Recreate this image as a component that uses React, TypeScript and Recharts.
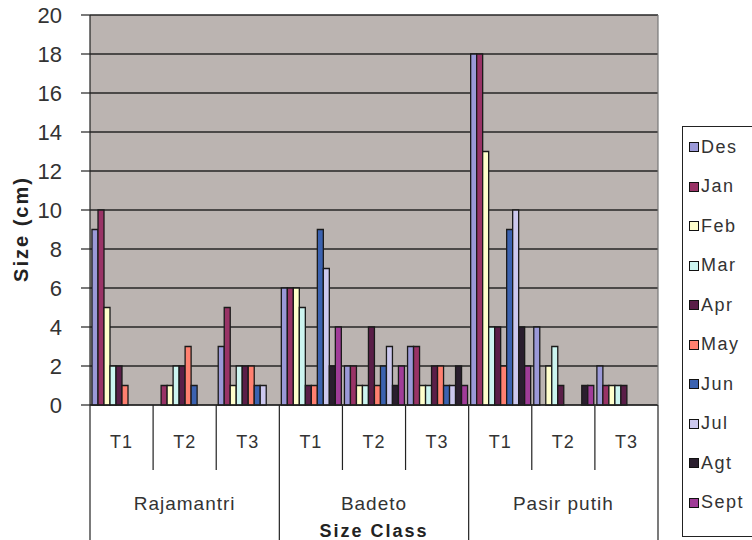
import React from "react";
import { BarChart, Bar, XAxis, YAxis, CartesianGrid, Label } from "recharts";

const FONT = "'Liberation Sans', Arial, sans-serif";

const siteNames = ["Rajamantri", "Badeto", "Pasir putih"];
const sizeClasses = ["T1", "T2", "T3"];
const yTicks = [0, 2, 4, 6, 8, 10, 12, 14, 16, 18, 20];

// one value per category: Rajamantri T1-T3, Badeto T1-T3, Pasir putih T1-T3
const des = [9, 0, 3, 6, 2, 3, 18, 4, 2];
const jan = [10, 1, 5, 6, 2, 3, 18, 0, 1];
const feb = [5, 1, 1, 6, 1, 1, 13, 2, 1];
const mar = [2, 2, 2, 5, 1, 1, 4, 3, 1];
const apr = [2, 2, 2, 1, 4, 2, 4, 1, 1];
const may = [1, 3, 2, 1, 1, 2, 2, 0, 0];
const jun = [0, 1, 1, 9, 2, 1, 9, 0, 0];
const jul = [0, 0, 1, 7, 3, 1, 10, 0, 0];
const agt = [0, 0, 0, 2, 1, 2, 4, 1, 0];
const sept = [0, 0, 0, 4, 2, 1, 2, 1, 0];

const series = [
  { name: "Des", values: des, color: "#9b99d8" },
  { name: "Jan", values: jan, color: "#993366" },
  { name: "Feb", values: feb, color: "#ffffcc" },
  { name: "Mar", values: mar, color: "#ccf5f0" },
  { name: "Apr", values: apr, color: "#5a1e48" },
  { name: "May", values: may, color: "#ff8070" },
  { name: "Jun", values: jun, color: "#3b62b0" },
  { name: "Jul", values: jul, color: "#ccc8ee" },
  { name: "Agt", values: agt, color: "#2a1e2e" },
  { name: "Sept", values: sept, color: "#a03c98" },
];

const rows = siteNames.flatMap((site, s) =>
  sizeClasses.map((cls, c) => {
    const i = s * sizeClasses.length + c;
    const row: any = { cls, site };
    series.forEach((sr) => (row[sr.name] = sr.values[i]));
    return row;
  })
);

const W = 752;
const H = 540;
const PLOT_LEFT = 90;
const PLOT_RIGHT = 658;
const PLOT_TOP = 15;
const PLOT_BOTTOM = 405;
const BAND = (PLOT_RIGHT - PLOT_LEFT) / rows.length;

function ClassTick(props: any) {
  const { x, payload, index } = props;
  const left = x - BAND / 2;
  const right = x + BAND / 2;
  const groupStart = index % sizeClasses.length === 0;
  const last = index === rows.length - 1;
  return (
    <g>
      <text
        x={x}
        y={442}
        textAnchor="middle"
        dominantBaseline="central"
        fontFamily={FONT}
        fontSize={18}
        letterSpacing={1}
        fill="#333"
      >
        {payload.value}
      </text>
      <line
        x1={left}
        x2={left}
        y1={PLOT_BOTTOM}
        y2={groupStart ? H : 470}
        stroke="#222"
        strokeWidth={1.2}
      />
      {index % sizeClasses.length === 1 && (
        <text
          x={x}
          y={503}
          textAnchor="middle"
          dominantBaseline="central"
          fontFamily={FONT}
          fontSize={19}
          letterSpacing={1}
          fill="#333"
        >
          {rows[index].site}
        </text>
      )}
      {last && (
        <>
          <line x1={right} x2={right} y1={PLOT_TOP} y2={PLOT_BOTTOM} stroke="#777" strokeWidth={1.2} />
          <line x1={right} x2={right} y1={PLOT_BOTTOM} y2={H} stroke="#222" strokeWidth={1.2} />
        </>
      )}
    </g>
  );
}

function Legend() {
  return (
    <div
      style={{
        position: "absolute",
        left: 682,
        top: 126,
        width: 100,
        height: 411,
        border: "1px solid #222",
        background: "#fff",
        boxSizing: "border-box",
      }}
    >
      {series.map((s, i) => (
        <div
          key={s.name}
          style={{
            position: "absolute",
            left: 6,
            top: 20 + i * 39.5 - 11,
            height: 22,
            display: "flex",
            alignItems: "center",
            fontFamily: FONT,
            fontSize: 18,
            letterSpacing: 1.5,
            color: "#333",
          }}
        >
          <span
            style={{
              width: 8,
              height: 8,
              background: s.color,
              border: "1px solid #111",
              marginRight: 2,
              display: "inline-block",
            }}
          />
          {s.name}
        </div>
      ))}
    </div>
  );
}

export default function App() {
  return (
    <div
      style={{
        position: "absolute",
        left: 0,
        top: 0,
        width: W,
        height: H,
        overflow: "hidden",
        background: "#fff",
      }}
    >
      <BarChart
        width={W}
        height={H}
        data={rows}
        margin={{ top: PLOT_TOP, right: W - PLOT_RIGHT, bottom: 0, left: 0 }}
        barCategoryGap={2}
        barGap={0}
      >
        <CartesianGrid vertical={false} stroke="#262626" strokeWidth={1.6} fill="#bbb4b1" fillOpacity={1} />
        <XAxis
          dataKey="cls"
          height={H - PLOT_BOTTOM}
          tick={<ClassTick />}
          tickLine={false}
          axisLine={{ stroke: "#222", strokeWidth: 1.2 }}
          interval={0}
        >
          <Label
            content={() => (
              <text
                x={(PLOT_LEFT + PLOT_RIGHT) / 2}
                y={531}
                textAnchor="middle"
                dominantBaseline="central"
                fontFamily={FONT}
                fontSize={18}
                fontWeight="bold"
                letterSpacing={2}
                fill="#222"
              >
                Size Class
              </text>
            )}
          />
        </XAxis>
        <YAxis
          width={PLOT_LEFT}
          domain={[0, 20]}
          ticks={yTicks}
          interval={0}
          tickSize={9}
          tickMargin={19}
          tick={{ fontFamily: FONT, fontSize: 22, fill: "#333" }}
          tickLine={{ stroke: "#222", strokeWidth: 1.2 }}
          axisLine={{ stroke: "#222", strokeWidth: 1.2 }}
        >
          <Label
            content={() => (
              <text
                x={21}
                y={229}
                transform="rotate(-90 21 229)"
                textAnchor="middle"
                dominantBaseline="central"
                fontFamily={FONT}
                fontSize={20}
                fontWeight="bold"
                letterSpacing={2}
                fill="#222"
              >
                Size (cm)
              </text>
            )}
          />
        </YAxis>
        {series.map((s) => (
          <Bar
            key={s.name}
            dataKey={s.name}
            fill={s.color}
            stroke="#1a1a1a"
            strokeWidth={1.3}
            isAnimationActive={false}
          />
        ))}
      </BarChart>
      <Legend />
    </div>
  );
}
